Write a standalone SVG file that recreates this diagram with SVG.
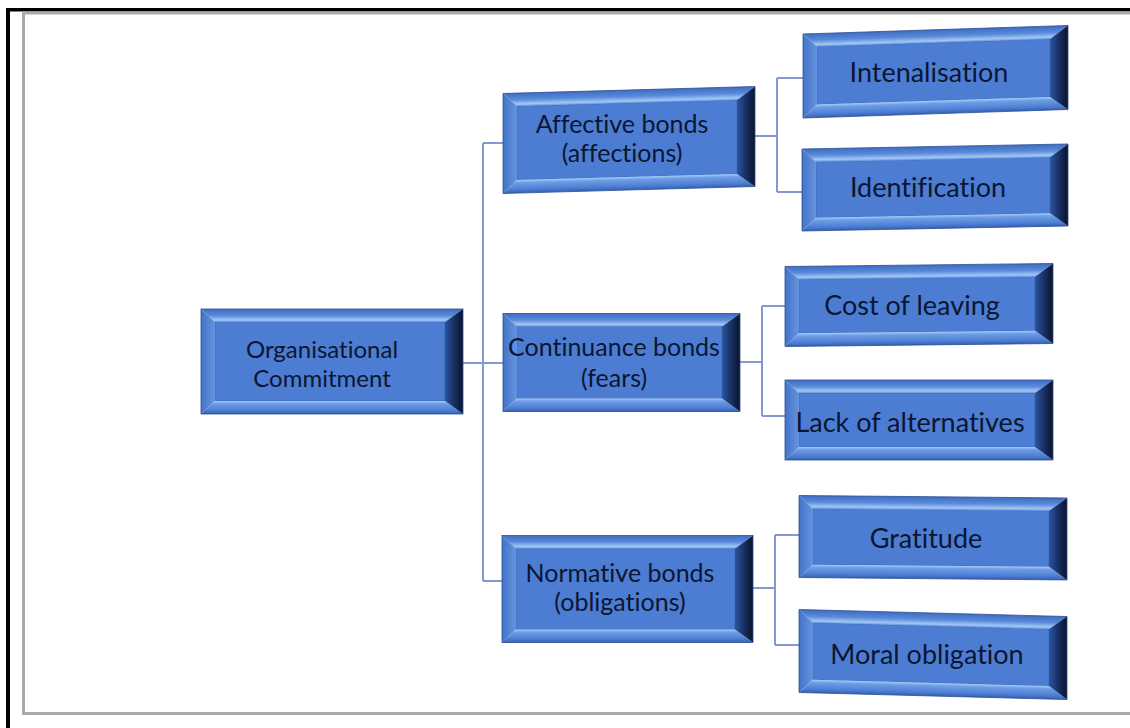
<svg xmlns="http://www.w3.org/2000/svg" width="1130" height="728" viewBox="0 0 1130 728">
  <defs>
    <linearGradient id="gTop" x1="0" y1="0" x2="0" y2="1">
      <stop offset="0" stop-color="#3f6dc4"/>
      <stop offset="0.5" stop-color="#5a8ad9"/>
      <stop offset="0.85" stop-color="#a2c7f7"/>
      <stop offset="1" stop-color="#6494df"/>
    </linearGradient>
    <linearGradient id="gBottom" x1="0" y1="0" x2="0" y2="1">
      <stop offset="0" stop-color="#a8ccf8"/>
      <stop offset="0.2" stop-color="#6e9ee5"/>
      <stop offset="0.7" stop-color="#4f7fd4"/>
      <stop offset="1" stop-color="#3460b3"/>
    </linearGradient>
    <linearGradient id="gLeft" x1="0" y1="0" x2="1" y2="0">
      <stop offset="0" stop-color="#4474c9"/>
      <stop offset="1" stop-color="#6593de"/>
    </linearGradient>
    <linearGradient id="gRight" x1="0" y1="0" x2="1" y2="0">
      <stop offset="0" stop-color="#2c55a0"/>
      <stop offset="0.45" stop-color="#1a336a"/>
      <stop offset="1" stop-color="#0a1329"/>
    </linearGradient>
  </defs>
  <style>
    .top { fill: url(#gTop); }
    .bot { fill: url(#gBottom); }
    .lft { fill: url(#gLeft); }
    .rgt { fill: url(#gRight); }
    .face { fill: #4c7dd3; stroke: #3d69bd; stroke-width: 0.8; }
    .edge { fill: none; stroke: #2a4f96; stroke-width: 0.8; }
    .lbl { font-family: Lato, "Liberation Sans", sans-serif; fill: #0b1631; text-anchor: middle;
           font-variant-ligatures: none; font-feature-settings: "liga" 0, "clig" 0; }
    .l1 { font-size: 24px; }
    .l2 { font-size: 25px; }
    .l3 { font-size: 27px; }
    .conn { fill: none; stroke: #8199cc; stroke-width: 2; }
  </style>

  <rect width="1130" height="728" fill="#ffffff"/>

  <!-- frame -->
  <g id="frame">
    <rect x="6" y="8" width="1124" height="3.5" fill="#000000"/>
    <rect x="6" y="8" width="4" height="720" fill="#000000"/>
    <rect x="22" y="11.5" width="1108" height="3" fill="#aaaaaa"/>
    <rect x="22" y="11.5" width="3" height="703.5" fill="#aaaaaa"/>
    <rect x="22" y="712" width="1108" height="3" fill="#aaaaaa"/>
  </g>

  <!-- connectors -->
  <g id="connectors" class="conn">
    <path d="M463,363 H503"/>
    <path d="M483,143 V581"/>
    <path d="M483,143 H503"/>
    <path d="M483,581 H502"/>
    <path d="M755,136 H777 M777,78 V192 M777,78 H803 M777,192 H802"/>
    <path d="M740,362 H762 M762,306 V416 M762,306 H785 M762,416 H785"/>
    <path d="M753,588 H775 M775,535 V645 M775,535 H799 M775,645 H799"/>
  </g>

  <!-- root -->
  <g id="n-root">
    <g transform="translate(201,309)">
      <rect class="face" x="14" y="13" width="230" height="79"/>
      <polygon class="top" points="0,0 262,0 244,13 14,13"/>
      <polygon class="lft" points="0,0 14,13 14,92 0,105"/>
      <polygon class="bot" points="0,105 14,92 244,92 262,105"/>
      <polygon class="rgt" points="262,0 262,105 244,92 244,13"/>
      <rect class="edge" x="0" y="0" width="262" height="105"/>
    </g>
    <text class="lbl l1" x="322" y="358">Organisational</text>
    <text class="lbl l1" x="322" y="387">Commitment</text>
  </g>

  <!-- second level -->
  <g id="n-affective">
    <g transform="translate(503,93.5) skewY(-1.59)">
      <rect class="face" x="14" y="13" width="220" height="74"/>
      <polygon class="top" points="0,0 252,0 234,13 14,13"/>
      <polygon class="lft" points="0,0 14,13 14,87 0,100"/>
      <polygon class="bot" points="0,100 14,87 234,87 252,100"/>
      <polygon class="rgt" points="252,0 252,100 234,87 234,13"/>
      <rect class="edge" x="0" y="0" width="252" height="100"/>
    </g>
    <text class="lbl l2" x="622" y="133">Affective bonds</text>
    <text class="lbl l2" x="622" y="162">(affections)</text>
  </g>

  <g id="n-continuance">
    <g transform="translate(503,313.5)">
      <rect class="face" x="14" y="13" width="205" height="72"/>
      <polygon class="top" points="0,0 237,0 219,13 14,13"/>
      <polygon class="lft" points="0,0 14,13 14,85 0,98"/>
      <polygon class="bot" points="0,98 14,85 219,85 237,98"/>
      <polygon class="rgt" points="237,0 237,98 219,85 219,13"/>
      <rect class="edge" x="0" y="0" width="237" height="98"/>
    </g>
    <text class="lbl l2" x="614" y="356">Continuance bonds</text>
    <text class="lbl l2" x="614" y="387">(fears)</text>
  </g>

  <g id="n-normative">
    <g transform="translate(502,535.5)">
      <rect class="face" x="14" y="13" width="219" height="81"/>
      <polygon class="top" points="0,0 251,0 233,13 14,13"/>
      <polygon class="lft" points="0,0 14,13 14,94 0,107"/>
      <polygon class="bot" points="0,107 14,94 233,94 251,107"/>
      <polygon class="rgt" points="251,0 251,107 233,94 233,13"/>
      <rect class="edge" x="0" y="0" width="251" height="107"/>
    </g>
    <text class="lbl l2" x="620" y="582">Normative bonds</text>
    <text class="lbl l2" x="620" y="611">(obligations)</text>
  </g>

  <!-- third level -->
  <g id="n-intenalisation">
    <g transform="translate(803,34) skewY(-1.84)">
      <rect class="face" x="14" y="13" width="233" height="58"/>
      <polygon class="top" points="0,0 265,0 247,13 14,13"/>
      <polygon class="lft" points="0,0 14,13 14,71 0,84"/>
      <polygon class="bot" points="0,84 14,71 247,71 265,84"/>
      <polygon class="rgt" points="265,0 265,84 247,71 247,13"/>
      <rect class="edge" x="0" y="0" width="265" height="84"/>
    </g>
    <text class="lbl l3" x="929" y="82">Intenalisation</text>
  </g>

  <g id="n-identification">
    <g transform="translate(802,149) skewY(-1.08)">
      <rect class="face" x="14" y="13" width="234" height="56"/>
      <polygon class="top" points="0,0 266,0 248,13 14,13"/>
      <polygon class="lft" points="0,0 14,13 14,69 0,82"/>
      <polygon class="bot" points="0,82 14,69 248,69 266,82"/>
      <polygon class="rgt" points="266,0 266,82 248,69 248,13"/>
      <rect class="edge" x="0" y="0" width="266" height="82"/>
    </g>
    <text class="lbl l3" x="928" y="197">Identification</text>
  </g>

  <g id="n-cost">
    <g transform="translate(785,266.5) skewY(-0.64)">
      <rect class="face" x="14" y="13" width="236" height="54"/>
      <polygon class="top" points="0,0 268,0 250,13 14,13"/>
      <polygon class="lft" points="0,0 14,13 14,67 0,80"/>
      <polygon class="bot" points="0,80 14,67 250,67 268,80"/>
      <polygon class="rgt" points="268,0 268,80 250,67 250,13"/>
      <rect class="edge" x="0" y="0" width="268" height="80"/>
    </g>
    <text class="lbl l3" x="912" y="315">Cost of leaving</text>
  </g>

  <g id="n-lack">
    <g transform="translate(785,380)">
      <rect class="face" x="14" y="13" width="236" height="54"/>
      <polygon class="top" points="0,0 268,0 250,13 14,13"/>
      <polygon class="lft" points="0,0 14,13 14,67 0,80"/>
      <polygon class="bot" points="0,80 14,67 250,67 268,80"/>
      <polygon class="rgt" points="268,0 268,80 250,67 250,13"/>
      <rect class="edge" x="0" y="0" width="268" height="80"/>
    </g>
    <text class="lbl l3" x="910" y="432">Lack of alternatives</text>
  </g>

  <g id="n-gratitude">
    <g transform="translate(799,495.5) skewY(0.53)">
      <rect class="face" x="14" y="13" width="236" height="56"/>
      <polygon class="top" points="0,0 268,0 250,13 14,13"/>
      <polygon class="lft" points="0,0 14,13 14,69 0,82"/>
      <polygon class="bot" points="0,82 14,69 250,69 268,82"/>
      <polygon class="rgt" points="268,0 268,82 250,69 250,13"/>
      <rect class="edge" x="0" y="0" width="268" height="82"/>
    </g>
    <text class="lbl l3" x="926" y="548">Gratitude</text>
  </g>

  <g id="n-moral">
    <g transform="translate(799,609.5) skewY(1.5)">
      <rect class="face" x="14" y="13" width="236" height="57"/>
      <polygon class="top" points="0,0 268,0 250,13 14,13"/>
      <polygon class="lft" points="0,0 14,13 14,70 0,83"/>
      <polygon class="bot" points="0,83 14,70 250,70 268,83"/>
      <polygon class="rgt" points="268,0 268,83 250,70 250,13"/>
      <rect class="edge" x="0" y="0" width="268" height="83"/>
    </g>
    <text class="lbl l3" x="927" y="664">Moral obligation</text>
  </g>
</svg>
